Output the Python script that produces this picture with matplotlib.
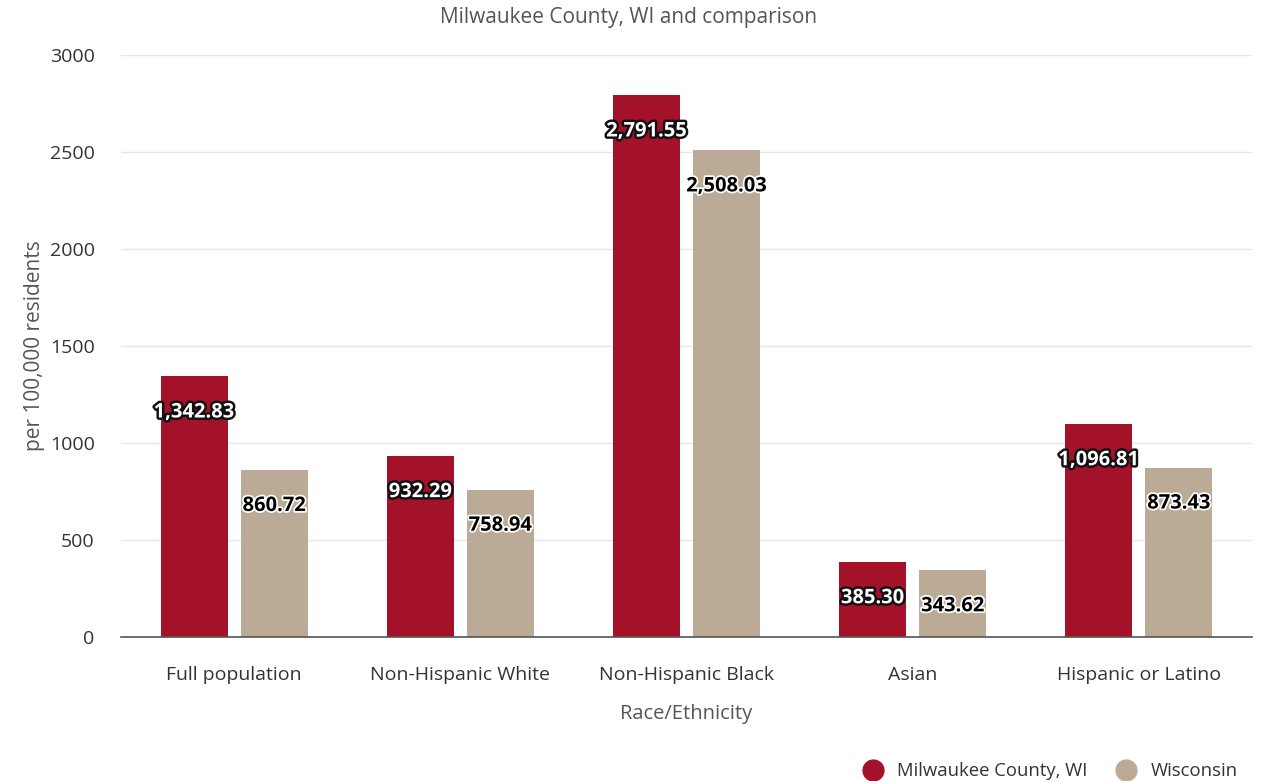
import matplotlib.pyplot as plt
import matplotlib.patheffects as pe
from matplotlib.lines import Line2D
import numpy as np

categories = ["Full population", "Non-Hispanic White", "Non-Hispanic Black", "Asian", "Hispanic or Latino"]
milwaukee = [1342.83, 932.29, 2791.55, 385.30, 1096.81]
wisconsin = [860.72, 758.94, 2508.03, 343.62, 873.43]
series_names = ["Milwaukee County, WI", "Wisconsin"]
yticks = [0, 500, 1000, 1500, 2000, 2500, 3000]

plt.rcParams['font.family'] = ['Open Sans', 'DejaVu Sans']

red = "#A4122A"
tan = "#BBAA96"
grey = "#555555"

fig = plt.figure(figsize=(12.63, 7.81), dpi=100)
ax = fig.add_axes([121 / 1263, 1 - 637 / 781, (1252 - 121) / 1263, (637 - 55) / 781])

x = np.arange(len(categories))
w = 67 / 226
off = 40 / 226
b1 = ax.bar(x - off, milwaukee, width=w, color=red, zorder=3)
b2 = ax.bar(x + off, wisconsin, width=w, color=tan, zorder=3)

# red bars: white text, dark outline; tan bars: black text, light outline
styles = [(b1, milwaukee, "white", "#111111", 3.5), (b2, wisconsin, "black", "white", 2.5)]
for bars, vals, fc, oc, lw in styles:
    for rect, v in zip(bars, vals):
        ax.annotate(f"{v:,.2f}", (rect.get_x() + rect.get_width() / 2, v),
                    xytext=(0, -36), textcoords="offset pixels",
                    ha="center", va="center", fontsize=14.5, fontweight="bold",
                    color=fc, path_effects=[pe.withStroke(linewidth=lw, foreground=oc)],
                    zorder=4)

ax.set_xlim(-0.5, 4.5)
ax.set_ylim(0, 3000)
ax.set_yticks(yticks)
ax.set_yticklabels([str(t) for t in yticks])
ax.set_xticks(x)
ax.set_xticklabels(categories)
ax.tick_params(axis="both", length=0, labelsize=14, colors="#333333")
ax.tick_params(axis="y", pad=19)
ax.tick_params(axis="x", pad=21)
ax.grid(axis="y", color="#e6e6e6", linewidth=1, zorder=0)
for s in ["top", "right", "left"]:
    ax.spines[s].set_visible(False)
ax.spines["bottom"].set_color("#555555")
ax.spines["bottom"].set_linewidth(1.2)
ax.spines["bottom"].set_zorder(5)

ax.set_ylabel("per 100,000 residents", fontsize=15, color=grey, labelpad=3)
ax.set_xlabel("Race/Ethnicity", fontsize=14.5, color=grey, labelpad=14)
fig.text(629 / 1263, 1 - 18 / 781, "Milwaukee County, WI and comparison",
         ha="center", va="center", fontsize=15, color=grey)

handles = [Line2D([], [], marker="o", linestyle="", markersize=15, color=c) for c in (red, tan)]
fig.legend(handles, series_names, loc="lower right", bbox_to_anchor=(0.993, -0.02),
           ncol=2, frameon=False, fontsize=13.3, labelcolor="#333333",
           handletextpad=0.3, columnspacing=1.1)

fig.savefig("out.png", dpi=100)
